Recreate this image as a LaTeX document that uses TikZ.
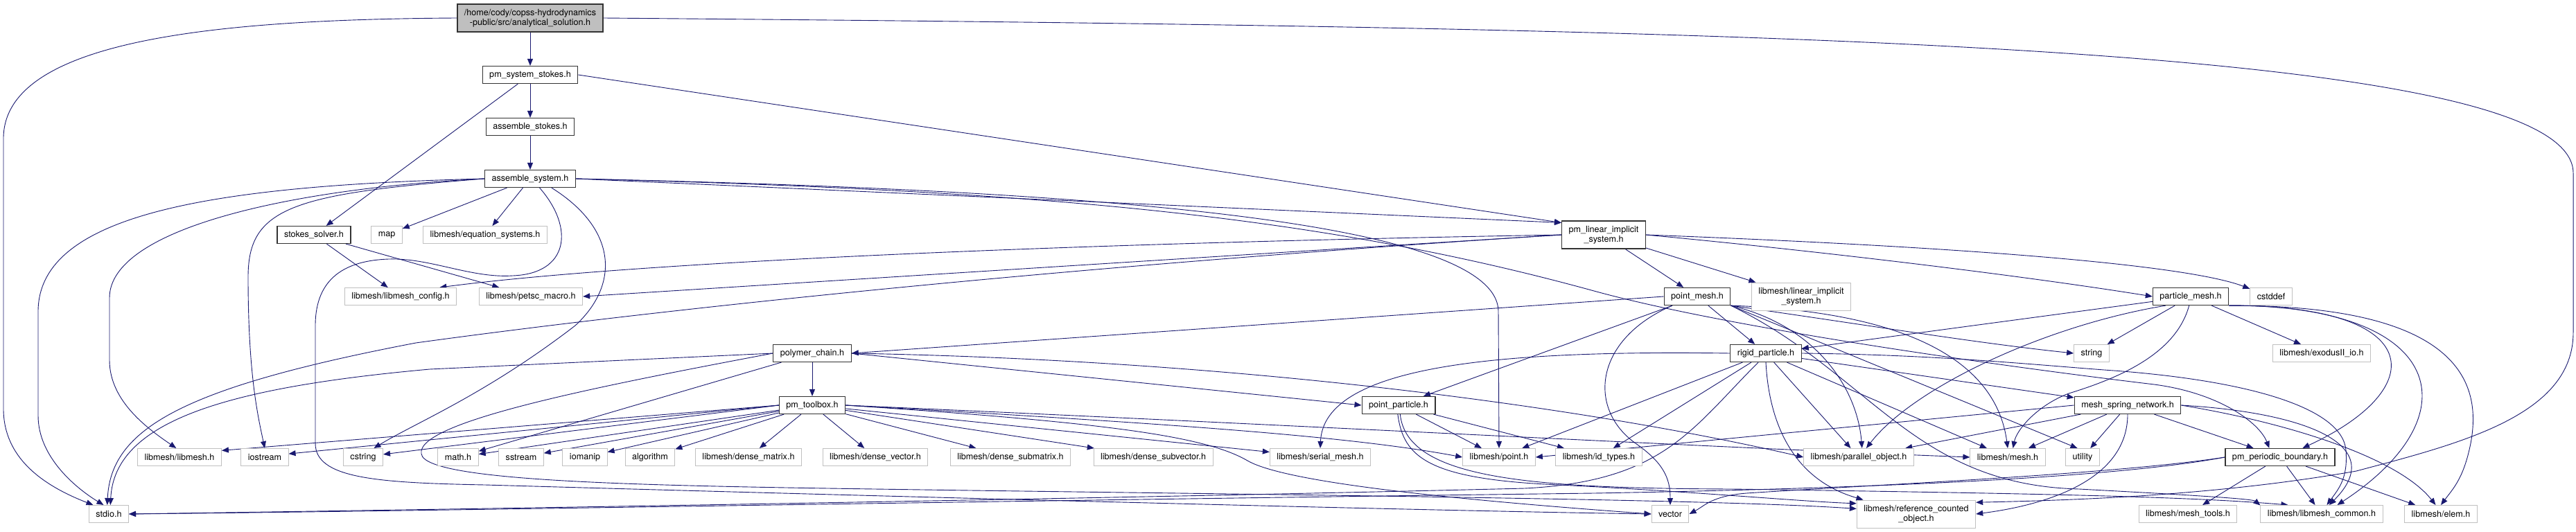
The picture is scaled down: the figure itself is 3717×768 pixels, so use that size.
\documentclass[tikz,border=0pt]{standalone}
\usepackage{fontspec}
\setmainfont{TeX Gyre Heros}
\usetikzlibrary{arrows.meta}
\pgfdeclarelayer{background}
\pgfsetlayers{background,main}
\definecolor{mblue}{HTML}{191970}
\definecolor{lgray}{HTML}{C0C0C0}
\definecolor{rootfill}{HTML}{BFBFBF}
\newcommand{\nodefnt}{\fontsize{12.6}{14.4}\selectfont}
\begin{document}
\begin{tikzpicture}[x=1pt,y=-1pt,
  base/.style={rectangle, line width=1pt, minimum height=25pt, inner xsep=10pt, inner ysep=1pt, font=\nodefnt, align=center, fill=white},
  docn/.style={base, draw=black!80, line width=1.2pt},
  extn/.style={base, draw=lgray},
  twol/.style={minimum height=40pt},
  rootn/.style={docn, fill=rootfill},
  e/.style={draw=mblue, line width=0.9pt, -{Triangle[length=10pt,width=8pt]}},
]
\useasboundingbox (0,0) rectangle (3717,768);
% ---------------- nodes ----------------
\node[rootn,twol] (A) at (765,26) {/home/cody/copss-hydrodynamics\\-public/src/analytical\_solution.h};
\node[docn] (pss) at (765,108) {pm\_system\_stokes.h};
\node[docn] (ast) at (765,183) {assemble\_stokes.h};
\node[docn] (as) at (765,258) {assemble\_system.h};
\node[docn] (ss) at (453,339) {stokes\_solver.h};
\node[extn] (map) at (558,339) {map};
\node[extn] (eq) at (700,339) {libmesh/equation\_systems.h};
\node[docn,twol] (pli) at (2314,339) {pm\_linear\_implicit\\\_system.h};
\node[extn] (config) at (578,428) {libmesh/libmesh\_config.h};
\node[extn] (petsc) at (766,428) {libmesh/petsc\_macro.h};
\node[docn] (pmesh) at (2449,428) {point\_mesh.h};
\node[extn,twol] (linimpl) at (2599,428) {libmesh/linear\_implicit\\\_system.h};
\node[docn] (partmesh) at (3161,428) {particle\_mesh.h};
\node[extn] (cstddef) at (3277,428) {cstddef};
\node[docn] (polymer) at (1172,510) {polymer\_chain.h};
\node[docn] (rigid) at (2548,510) {rigid\_particle.h};
\node[extn] (string) at (3018,510) {string};
\node[extn] (exodus) at (3350,510) {libmesh/exodusII\_io.h};
\node[docn] (toolbox) at (1172,585) {pm\_toolbox.h};
\node[docn] (ppart) at (2018,585) {point\_particle.h};
\node[docn] (ms) at (3070,585) {mesh\_spring\_network.h};
\node[extn] (lmh) at (259,660) {libmesh/libmesh.h};
\node[extn] (iostream) at (382,660) {iostream};
\node[extn] (cstring) at (524,660) {cstring};
\node[extn] (math) at (661,660) {math.h};
\node[extn] (sstream) at (752,660) {sstream};
\node[extn] (iomanip) at (844,660) {iomanip};
\node[extn] (algorithm) at (938,660) {algorithm};
\node[extn] (dmat) at (1080,660) {libmesh/dense\_matrix.h};
\node[extn] (dvec) at (1263,660) {libmesh/dense\_vector.h};
\node[extn] (dsubm) at (1458,660) {libmesh/dense\_submatrix.h};
\node[extn] (dsubv) at (1664,660) {libmesh/dense\_subvector.h};
\node[extn] (serial) at (1905,660) {libmesh/serial\_mesh.h};
\node[extn] (point) at (2163,660) {libmesh/point.h};
\node[extn] (idt) at (2307,660) {libmesh/id\_types.h};
\node[extn] (parobj) at (2682,660) {libmesh/parallel\_object.h};
\node[extn] (mesh) at (2897,660) {libmesh/mesh.h};
\node[extn] (utility) at (3005,660) {utility};
\node[docn] (pbc) at (3290,660) {pm\_periodic\_boundary.h};
\node[extn] (stdio) at (157,742) {stdio.h};
\node[extn] (vector) at (2410,742) {vector};
\node[extn,twol] (refc) at (2765,742) {libmesh/reference\_counted\\\_object.h};
\node[extn] (meshtools) at (3157,742) {libmesh/mesh\_tools.h};
\node[extn] (common) at (3350,742) {libmesh/libmesh\_common.h};
\node[extn] (elem) at (3522,742) {libmesh/elem.h};
% ---------------- edges ----------------
\begin{pgfonlayer}{background}
\fill[white] (0,0) rectangle (3717,768);
% root
\draw[e] (A) -- (pss);
\draw[e] (A.west) .. controls (300,28) and (5,60) .. (5,200) -- (5,590) .. controls (5,660) and (60,700) .. (stdio.150);
\draw[e] (A.east) .. controls (2500,40) and (3713,60) .. (3713,250) -- (3713,480) .. controls (3713,600) and (3550,640) .. (3400,680) .. controls (3200,715) and (3000,722) .. (refc.11);
% pm_system_stokes
\draw[e] (pss) -- (ast);
\draw[e] (pss) -- (ss);
\draw[e] (pss.east) -- (pli.164);
\draw[e] (ast) -- (as);
% assemble_system
\draw[e] (as) -- (map);
\draw[e] (as) -- (eq);
\draw[e] (as.east) -- (pli.164);
\draw[e] (as.east) .. controls (1600,275) and (2162,320) .. (2162,450) -- (point.north);
\draw[e] (as.east) .. controls (1500,275) and (1900,310) .. (2300,420) .. controls (2500,475) and (2900,530) .. (3100,554) .. controls (3200,565) and (3260,610) .. (pbc.140);
\draw[e] (as.west) .. controls (300,268) and (55,310) .. (55,450) -- (55,600) .. controls (55,660) and (110,705) .. (stdio.120);
\draw[e] (as.west) .. controls (420,272) and (158,330) .. (158,430) -- (158,520) .. controls (158,580) and (215,620) .. (lmh.110);
\draw[e] (as.west) .. controls (420,280) and (358,300) .. (358,400) .. controls (358,540) and (372,600) .. (iostream.north);
\draw[e] (as.-23) .. controls (890,330) and (895,410) .. (830,470) .. controls (700,570) and (600,610) .. (cstring.40);
\draw[e] (as.-44) .. controls (830,330) and (820,395) .. (740,398) .. controls (680,402) and (620,372) .. (561,374) .. controls (500,376) and (455,400) .. (455,470) -- (455,640) .. controls (455,690) and (540,697) .. (700,700) .. controls (1400,720) and (2100,738) .. (vector.west);
% stokes_solver
\draw[e] (ss) -- (config);
\draw[e] (ss) -- (petsc);
% pm_linear_implicit_system
\draw[e] (pli.west) .. controls (1500,352) and (900,380) .. (config.13);
\draw[e] (pli.west) -- (petsc.east);
\draw[e] (pli.west) .. controls (1600,380) and (1000,440) .. (600,495) .. controls (260,560) and (160,620) .. (stdio.100);
\draw[e] (pli) -- (pmesh);
\draw[e] (pli) -- (linimpl);
\draw[e] (pli.east) .. controls (2600,360) and (2900,395) .. (partmesh.west);
\draw[e] (pli.east) .. controls (2800,355) and (3150,380) .. (cstddef.160);
% point_mesh
\draw[e] (pmesh.west) -- (polymer.east);
\draw[e] (pmesh) -- (ppart);
\draw[e] (pmesh) -- (rigid);
\draw[e] (pmesh.200) .. controls (2300,490) and (2290,590) .. (2360,640) .. controls (2400,668) and (2410,690) .. (vector.north);
\draw[e] (pmesh.south east) .. controls (2700,470) and (2850,495) .. (string.west);
\draw[e] (pmesh.south east) .. controls (2620,470) and (2680,560) .. (parobj.70);
\draw[e] (pmesh.south east) .. controls (2750,450) and (2880,520) .. (mesh.north);
\draw[e] (pmesh.south east) -- (utility.120);
\draw[e] (pmesh.south east) .. controls (2700,540) and (2760,700) .. (3000,706) .. controls (3150,714) and (3250,720) .. (common.172);
% polymer_chain
\draw[e] (polymer) -- (toolbox);
\draw[e] (polymer.east) -- (ppart.west);
\draw[e] (polymer.west) -- (620,533) .. controls (320,560) and (165,610) .. (stdio.80);
\draw[e] (polymer) -- (math);
\draw[e] (polymer.east) .. controls (1800,520) and (2300,590) .. (parobj.west);
\draw[e] (polymer.west) .. controls (850,560) and (600,610) .. (608,655) .. controls (612,700) and (1000,702) .. (1400,708) .. controls (2000,716) and (2500,722) .. (refc.175);
% pm_toolbox
\draw[e] (toolbox.west) -- (lmh.9);
\draw[e] (toolbox.west) -- (iostream.8);
\draw[e] (toolbox.west) -- (cstring.8);
\draw[e] (toolbox) -- (math);
\draw[e] (toolbox) -- (sstream);
\draw[e] (toolbox) -- (iomanip);
\draw[e] (toolbox) -- (algorithm);
\draw[e] (toolbox) -- (dmat);
\draw[e] (toolbox) -- (dvec);
\draw[e] (toolbox) -- (dsubm);
\draw[e] (toolbox) -- (dsubv);
\draw[e] (toolbox) -- (serial);
\draw[e] (toolbox.east) .. controls (1700,612) and (1950,630) .. (point.west);
\draw[e] (toolbox.east) .. controls (1900,615) and (2450,645) .. (mesh.west);
\draw[e] (toolbox.east) .. controls (1600,610) and (1740,630) .. (1800,665) .. controls (1860,700) and (2150,725) .. (vector.west);
% point_particle
\draw[e] (ppart) -- (point);
\draw[e] (ppart) -- (idt);
\draw[e] (ppart.265) .. controls (2025,660) and (2060,692) .. (2250,700) .. controls (2450,710) and (2600,724) .. (refc.170);
\draw[e] (ppart.280) .. controls (2030,690) and (2200,705) .. (2500,706) .. controls (2900,712) and (3150,716) .. (common.165);
% rigid_particle
\draw[e] (rigid.west) .. controls (2150,505) and (1910,530) .. (serial.north);
\draw[e] (rigid) -- (point);
\draw[e] (rigid) -- (idt);
\draw[e] (rigid) -- (parobj);
\draw[e] (rigid) -- (mesh);
\draw[e] (rigid) -- (ms);
\draw[e] (rigid.south) .. controls (2552,600) and (2580,690) .. (refc.165);
\draw[e] (rigid.east) .. controls (2800,512) and (2950,528) .. (3050,535) .. controls (3250,550) and (3380,590) .. (3385,650) .. controls (3388,690) and (3375,705) .. (common.60);
\draw[e] (rigid.230) .. controls (2440,620) and (2400,695) .. (2200,705) .. controls (1500,722) and (600,736) .. (stdio.east);
% particle_mesh
\draw[e] (partmesh) -- (rigid);
\draw[e] (partmesh) -- (string);
\draw[e] (partmesh) -- (exodus);
\draw[e] (partmesh.260) .. controls (3140,510) and (3060,545) .. (2985,568) .. controls (2940,585) and (2910,620) .. (mesh.60);
\draw[e] (partmesh.200) .. controls (2950,470) and (2760,560) .. (parobj.50);
\draw[e] (partmesh.south east) .. controls (3500,440) and (3510,560) .. (pbc.22);
\draw[e] (partmesh.south east) .. controls (3530,440) and (3570,600) .. (common.30);
\draw[e] (partmesh.south east) .. controls (3560,440) and (3580,560) .. (3565,640) .. controls (3555,690) and (3540,705) .. (elem.north);
% mesh_spring_network
\draw[e] (ms.west) -- (point.east);
\draw[e] (ms) -- (parobj);
\draw[e] (ms) -- (mesh);
\draw[e] (ms) -- (utility);
\draw[e] (ms) -- (pbc);
\draw[e] (ms.east) .. controls (3320,595) and (3450,640) .. (common.50);
\draw[e] (ms.east) .. controls (3300,610) and (3460,660) .. (elem.120);
\draw[e] (ms.south) .. controls (3070,690) and (2960,728) .. (refc.east);
% pm_periodic_boundary
\draw[e] (pbc) -- (meshtools);
\draw[e] (pbc) -- (common);
\draw[e] (pbc) -- (elem);
\draw[e] (pbc.west) .. controls (3050,685) and (2700,700) .. (2520,712) .. controls (2470,716) and (2460,730) .. (vector.east);
\draw[e] (pbc.west) .. controls (3050,690) and (2700,705) .. (2300,712) .. controls (1500,722) and (600,738) .. (stdio.east);
\end{pgfonlayer}
\end{tikzpicture}
\end{document}
